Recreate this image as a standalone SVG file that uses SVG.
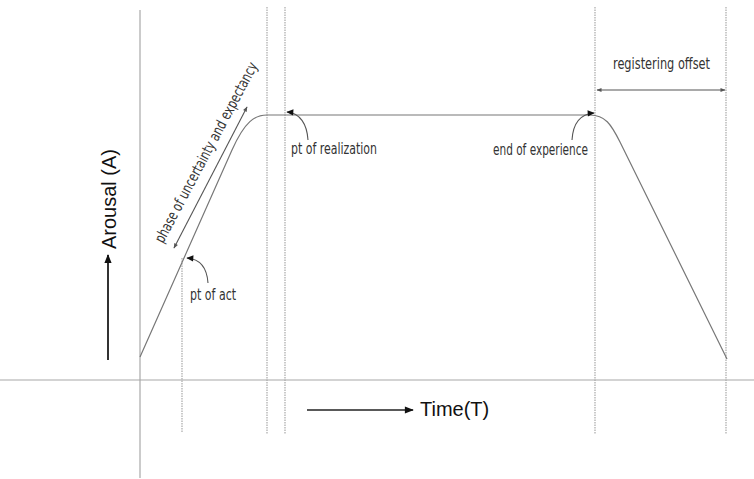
<svg xmlns="http://www.w3.org/2000/svg" width="754" height="479" viewBox="0 0 754 479">
<style>
.grid{stroke:#a8a8a8;stroke-width:1.2;fill:none}
.dot{stroke:#a8a8a8;stroke-width:1.2;stroke-dasharray:1.5 1;fill:none}
.curve{stroke:#777;stroke-width:1.2;fill:none}
.ptr{stroke:#555;stroke-width:1.1;fill:none}
.lbl{font-family:"DejaVu Sans Condensed","DejaVu Sans",sans-serif;font-stretch:condensed;font-size:15px;fill:#333}
.ax{font-family:"Liberation Sans",Arial,sans-serif;font-size:20px;fill:#111}
</style>
<defs>
<marker id="ah" viewBox="0 0 10 10" refX="9" refY="5" markerWidth="8" markerHeight="7" orient="auto" markerUnits="userSpaceOnUse">
<path d="M0,0.5 L10,5 L0,9.5 z" fill="#111"/>
</marker>
<marker id="ahs" viewBox="0 0 10 10" refX="9" refY="5" markerWidth="6" markerHeight="5" orient="auto-start-reverse" markerUnits="userSpaceOnUse">
<path d="M0,1 L10,5 L0,9 z" fill="#555"/>
</marker>
<marker id="ahb" viewBox="0 0 10 10" refX="9" refY="5" markerWidth="12" markerHeight="9" orient="auto" markerUnits="userSpaceOnUse">
<path d="M0,1 L10,5 L0,9 z" fill="#111"/>
</marker>
</defs>
<g id="gridlines">
<line class="grid" x1="0" y1="380" x2="754" y2="380"/>
<line class="grid" x1="140" y1="10" x2="140" y2="478"/>
<line class="dot" x1="182" y1="258" x2="182" y2="433"/>
<line class="dot" x1="267" y1="7" x2="267" y2="434"/>
<line class="dot" x1="285" y1="7" x2="285" y2="434"/>
<line class="dot" x1="595" y1="7" x2="595" y2="434"/>
<line class="dot" x1="726" y1="7" x2="726" y2="434"/>
</g>
<g id="arousal-curve">
<path class="curve" d="M140,357 L232,150 C245,121 255,115 267,115 L590,115 C605,115 611,124 620,142 L727,359"/>
</g>
<g id="axis-labels">
<line stroke="#333" stroke-width="2" x1="108" y1="360" x2="108" y2="255" marker-end="url(#ahb)"/>
<text class="ax" transform="translate(116,249) rotate(-90)">Arousal (A)</text>
<line stroke="#222" stroke-width="1.6" x1="307" y1="410" x2="413" y2="410" marker-end="url(#ahb)"/>
<text class="ax" x="420" y="416">Time(T)</text>
</g>
<g id="phase">
<line class="ptr" x1="174" y1="248" x2="247" y2="107" marker-start="url(#ahs)" marker-end="url(#ahs)"/>
<text class="lbl" transform="translate(207,153) rotate(-62)" x="0" y="4" text-anchor="middle" textLength="202" lengthAdjust="spacingAndGlyphs">phase of uncertainty and expectancy</text>
</g>
<g id="pt-of-act">
<path class="ptr" d="M208,283 C207,268 200,259 187,258" marker-end="url(#ah)"/>
<text class="lbl" x="190" y="300" textLength="46" lengthAdjust="spacingAndGlyphs">pt of act</text>
</g>
<g id="pt-of-realization">
<path class="ptr" d="M308,140 C307,124 300,113 287,112" marker-end="url(#ah)"/>
<text class="lbl" x="291" y="154" textLength="86" lengthAdjust="spacingAndGlyphs">pt of realization</text>
</g>
<g id="end-of-experience">
<path class="ptr" d="M572,140 C573,124 580,114 594,113" marker-end="url(#ah)"/>
<text class="lbl" x="493" y="155" textLength="95" lengthAdjust="spacingAndGlyphs">end of experience</text>
</g>
<g id="registering-offset">
<line class="ptr" x1="597" y1="90" x2="725" y2="90" marker-start="url(#ahs)" marker-end="url(#ahs)"/>
<text class="lbl" x="613" y="69" textLength="97" lengthAdjust="spacingAndGlyphs">registering offset</text>
</g>
</svg>
